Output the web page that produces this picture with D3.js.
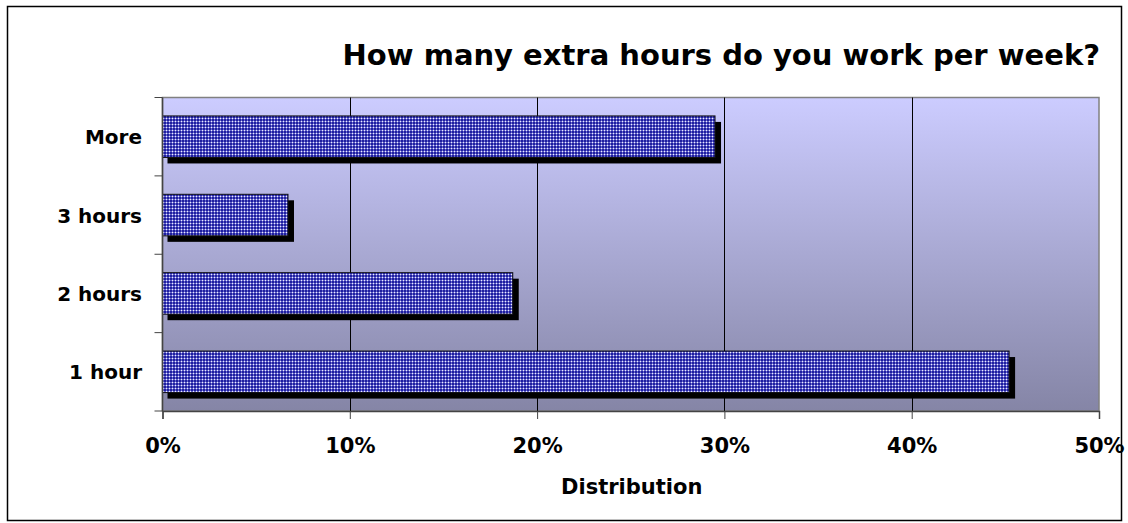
<!DOCTYPE html>
<html><head><meta charset="utf-8">
<script src="https://cdn.jsdelivr.net/npm/d3@7"></script>
<style>body{margin:0;background:#fff}svg{display:block}text{font-family:"DejaVu Sans",Verdana,sans-serif;font-weight:bold;fill:#000}</style>
</head><body>
<script>
const categories = ["1 hour", "2 hours", "3 hours", "More"];
const values = [0.452, 0.187, 0.067, 0.295];
const xTicks = [0, 0.1, 0.2, 0.3, 0.4, 0.5];
const title = "How many extra hours do you work per week?";
const xTitle = "Distribution";

const W = 1128, H = 523;
const plot = {left: 162.5, right: 1099, top: 97.5, bottom: 411};
const svg = d3.select("body").append("svg").attr("width", W).attr("height", H);
const defs = svg.append("defs");
const g = defs.append("linearGradient").attr("id", "bg").attr("x1", 0).attr("y1", 0).attr("x2", 0).attr("y2", 1);
g.append("stop").attr("offset", "0%").attr("stop-color", "#ccccff");
g.append("stop").attr("offset", "100%").attr("stop-color", "#8585a6");
const p = defs.append("pattern").attr("id", "dots").attr("width", 3).attr("height", 3).attr("patternUnits", "userSpaceOnUse");
p.append("rect").attr("width", 3).attr("height", 3).attr("fill", "#1f1fa0");
p.append("rect").attr("x", 1).attr("y", 0).attr("width", 1).attr("height", 3).attr("fill", "#6868cc");
p.append("rect").attr("x", 0).attr("y", 1).attr("width", 3).attr("height", 1).attr("fill", "#6868cc");
p.append("rect").attr("x", 1).attr("y", 1).attr("width", 1).attr("height", 1).attr("fill", "#eeeeff");

// outer frame
svg.append("rect").attr("x", 7.5).attr("y", 6.5).attr("width", 1114).attr("height", 514)
  .attr("fill", "none").attr("stroke", "#000").attr("stroke-width", 1.5);

const x = d3.scaleLinear().domain([0, 0.5]).range([plot.left, plot.right]);
const y = d3.scaleBand().domain(categories).range([plot.bottom, plot.top]).paddingInner(0.47).paddingOuter(0.235);

svg.append("rect").attr("x", plot.left).attr("y", plot.top).attr("width", plot.right - plot.left)
  .attr("height", plot.bottom - plot.top).attr("fill", "url(#bg)").attr("stroke", "#808080").attr("stroke-width", 1.5);

// gridlines
svg.append("g").selectAll("line").data(xTicks.slice(1, -1)).join("line")
  .attr("x1", d => Math.round(x(d)) + 0.5).attr("x2", d => Math.round(x(d)) + 0.5)
  .attr("y1", plot.top).attr("y2", plot.bottom).attr("stroke", "#000").attr("stroke-width", 1);

// shadows
svg.append("g").selectAll("rect").data(values).join("rect")
  .attr("x", x(0) + 5).attr("y", (d, i) => y(categories[i]) + 6)
  .attr("width", d => x(d) - x(0) + 1).attr("height", y.bandwidth()).attr("fill", "#000");
// bars
svg.append("g").selectAll("rect").data(values).join("rect")
  .attr("x", x(0)).attr("y", (d, i) => y(categories[i]))
  .attr("width", d => x(d) - x(0)).attr("height", y.bandwidth())
  .attr("fill", "url(#dots)").attr("stroke", "#111").attr("stroke-width", 1);

// axes
const xAxis = d3.axisBottom(x).tickValues(xTicks).tickFormat(d3.format(".0%")).tickSize(8);
const gx = svg.append("g").attr("transform", `translate(0,${plot.bottom})`).call(xAxis);
gx.select(".domain").attr("stroke", "#444").attr("stroke-width", 1.5);
gx.selectAll(".tick line").attr("stroke", "#444");
gx.selectAll("text").style("font-size", "21px").attr("fill", "#000").attr("dy", null).attr("y", 42);

const yTickPos = d3.range(categories.length + 1).map(i => plot.bottom - i * (plot.bottom - plot.top) / categories.length);
svg.append("line").attr("x1", plot.left).attr("x2", plot.left).attr("y1", plot.top).attr("y2", plot.bottom)
  .attr("stroke", "#444").attr("stroke-width", 1.5);
svg.append("g").selectAll("line").data(yTickPos).join("line")
  .attr("x1", plot.left - 8).attr("x2", plot.left).attr("y1", d => d).attr("y2", d => d)
  .attr("stroke", "#444").attr("stroke-width", 1);
svg.append("g").selectAll("text").data(categories).join("text")
  .attr("x", 142).attr("y", d => y(d) + y.bandwidth() / 2 + 7.5)
  .attr("text-anchor", "end").style("font-size", "20px").text(d => d);

svg.append("text").attr("x", 1100).attr("y", 65).attr("text-anchor", "end").style("font-size", "29px").text(title);
svg.append("text").attr("x", (plot.left + plot.right) / 2 + 1).attr("y", 494).attr("text-anchor", "middle").style("font-size", "21px").text(xTitle);
</script>
</body></html>
